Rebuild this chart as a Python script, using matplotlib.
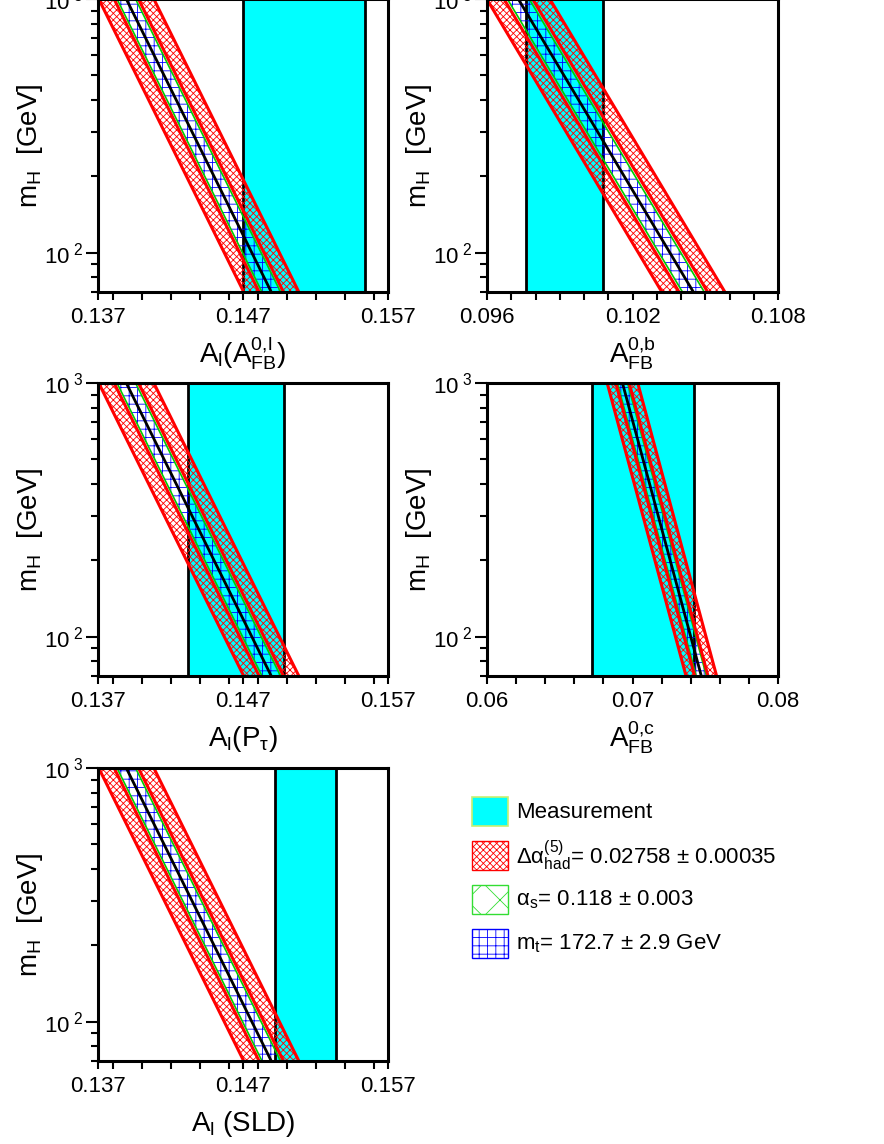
import numpy as np
import matplotlib.pyplot as plt
from matplotlib.patches import Rectangle
from matplotlib.ticker import FixedLocator, LogLocator, MultipleLocator, NullFormatter

plt.rcParams['font.family'] = ['Liberation Sans', 'DejaVu Sans']
plt.rcParams['mathtext.fontset'] = 'custom'
plt.rcParams['mathtext.rm'] = 'Liberation Sans'
plt.rcParams['mathtext.it'] = 'Liberation Sans'
plt.rcParams['mathtext.default'] = 'regular'
plt.rcParams['hatch.linewidth'] = 0.6

# Higgs mass range of the SM bands (GeV)
mh = [70, 1000]

# one entry per panel
xlabels = [r'$A_l(A^{0{,}l}_{FB})$', r'$A^{0{,}b}_{FB}$', r'$A_l(P_\tau)$',
           r'$A^{0{,}c}_{FB}$', r'$A_l$ (SLD)']
xranges = [(0.137, 0.157), (0.096, 0.108), (0.137, 0.157), (0.06, 0.08), (0.137, 0.157)]
xmajor = [[0.137, 0.147, 0.157], [0.096, 0.102, 0.108], [0.137, 0.147, 0.157],
          [0.06, 0.07, 0.08], [0.137, 0.147, 0.157]]
xticklabels = [['0.137', '0.147', '0.157'], ['0.096', '0.102', '0.108'],
               ['0.137', '0.147', '0.157'], ['0.06', '0.07', '0.08'],
               ['0.137', '0.147', '0.157']]
xminor = [0.002, 0.001, 0.002, 0.002, 0.002]

# measurements (value, error)
meas_val = [0.1512, 0.0992, 0.1465, 0.0707, 0.1513]
meas_err = [0.0042, 0.0016, 0.0033, 0.0035, 0.0021]

# SM prediction at mh[0] and mh[1]
sm_central = [[0.14895, 0.13895], [0.10451, 0.09729], [0.14895, 0.13895],
              [0.07473, 0.06931], [0.14895, 0.13895]]
# half widths: total (outer red), inner red edge, alpha_s / m_t band
w_total = [0.0019, 0.0013, 0.0019, 0.00105, 0.0019]
w_inner = [0.00084, 0.00059, 0.00084, 0.00046, 0.00084]
w_mt = [0.00064, 0.00045, 0.00064, 0.00035, 0.00064]

# legend entries
leg_labels = ['Measurement',
              r'$\Delta\alpha^{(5)}_{had}$= 0.02758 $\pm$ 0.00035',
              r'$\alpha_s$= 0.118 $\pm$ 0.003',
              r'$m_t$= 172.7 $\pm$ 2.9 GeV']

W, H = 884, 1144
fig = plt.figure(figsize=(W / 100, H / 100), dpi=100)

# axes boxes in pixels (left, top)
boxes = [(98, -1), (487, -1), (98, 383), (487, 383), (98, 768)]
bw = [290, 291, 290, 291, 290]
bh = 293

for i in range(5):
    l, t = boxes[i]
    ax = fig.add_axes([l / W, 1 - (t + bh) / H, bw[i] / W, bh / H])
    ax.set_yscale('log')
    ax.set_ylim(70, 1000)
    ax.set_xlim(*xranges[i])

    lo = meas_val[i] - meas_err[i]
    hi = meas_val[i] + meas_err[i]
    ax.axvspan(lo, hi, color='#00ffff', lw=0, zorder=1)
    ax.axvline(lo, color='black', lw=2, zorder=1.5)
    ax.axvline(hi, color='black', lw=2, zorder=1.5)

    c = np.array(sm_central[i])
    # delta alpha strips
    for s in (-1, 1):
        ax.fill_betweenx(mh, c + s * w_total[i], c + s * w_inner[i],
                         facecolor='none', edgecolor='red', lw=0, hatch='xxxxx', zorder=2)
    # m_t band
    ax.fill_betweenx(mh, c - w_mt[i], c + w_mt[i], facecolor='none',
                     edgecolor='blue', lw=0, hatch='++', zorder=2)
    for s in (-1, 1):
        ax.plot(c + s * w_mt[i], mh, color='#00cc00', lw=1.2, zorder=3)
        ax.plot(c + s * w_inner[i], mh, color='red', lw=2.2, zorder=4)
        ax.plot(c + s * w_total[i], mh, color='red', lw=2.2, zorder=4)
    ax.plot(c, mh, color='black', lw=2, zorder=5)

    ax.xaxis.set_major_locator(FixedLocator(xmajor[i]))
    ax.set_xticklabels(xticklabels[i])
    ax.xaxis.set_minor_locator(MultipleLocator(xminor[i]))
    ax.yaxis.set_major_locator(FixedLocator([100, 1000]))
    ax.set_yticklabels([r'$10^{\ 2}$', r'$10^{\ 3}$'])
    ax.yaxis.set_minor_locator(LogLocator(subs=np.arange(2, 10)))
    ax.yaxis.set_minor_formatter(NullFormatter())
    ax.tick_params(axis='x', which='both', direction='out', length=6, width=1.5,
                   labelsize=16, pad=5)
    ax.tick_params(axis='y', which='major', direction='out', length=9, width=1.5,
                   labelsize=16, pad=2)
    ax.tick_params(axis='y', which='minor', direction='out', length=5, width=1.5)
    for sp in ax.spines.values():
        sp.set_linewidth(2.2)
        sp.set_zorder(6)

    ax.text(0.5, -0.239, xlabels[i], transform=ax.transAxes, ha='center',
            va='baseline', fontsize=20)
    ax.text(-0.183, 0.5, r'$m_H$  [GeV]', transform=ax.transAxes, rotation=90,
            ha='right', va='center', fontsize=20)

# legend drawn in pixel coordinates
lax = fig.add_axes([0, 0, 1, 1])
lax.set_xlim(0, W)
lax.set_ylim(H, 0)
lax.axis('off')
styles = [dict(facecolor='#00ffff', edgecolor='#c8f070', lw=1.2),
          dict(facecolor='none', edgecolor='red', hatch='xxxxx', lw=1),
          dict(facecolor='none', edgecolor='#33dd33', hatch='x', lw=1),
          dict(facecolor='none', edgecolor='blue', hatch='++', lw=1)]
for k in range(4):
    y0 = 797 + 44 * k
    lax.add_patch(Rectangle((472, y0), 36, 29, **styles[k]))
    lax.text(516, y0 + 15, leg_labels[k], ha='left', va='center', fontsize=16)

fig.savefig('out.png', dpi=100)
